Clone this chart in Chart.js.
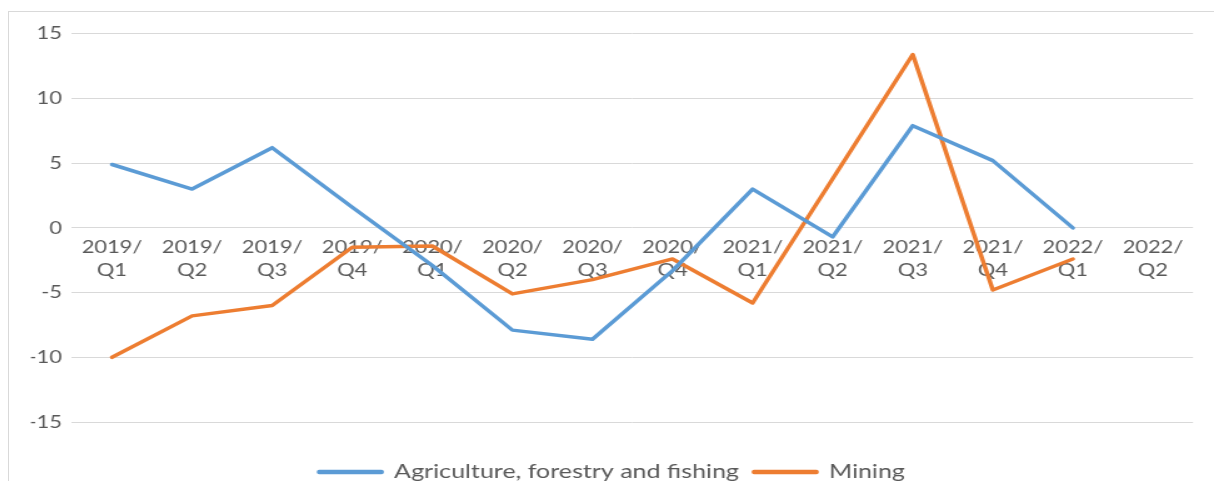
<!DOCTYPE html>
<html>
<head>
<meta charset="utf-8">
<script src="https://cdn.jsdelivr.net/npm/chart.js@4.4.1/dist/chart.umd.min.js"></script>
<style>
  html, body { margin: 0; padding: 0; background: #ffffff; overflow: hidden; width: 1214px; height: 481px; }
  #frame {
    position: absolute; left: 8px; top: 11px;
    width: 1240px; height: 520px;
    border: 1px solid #d9d9d9; background: #ffffff; overflow: hidden;
  }
  /* the chart is drawn on a narrower canvas and widened, giving the broad lettering */
  #stretch { position: absolute; left: 0; top: 0; transform: scaleX(1.25); transform-origin: 0 0; }
</style>
</head>
<body>
<div id="frame"><div id="stretch"><canvas id="chart" width="980" height="488"></canvas></div></div>
<script>
// Quarterly growth, %
const periods = ['2019/Q1', '2019/Q2', '2019/Q3', '2019/Q4',
                 '2020/Q1', '2020/Q2', '2020/Q3', '2020/Q4',
                 '2021/Q1', '2021/Q2', '2021/Q3', '2021/Q4',
                 '2022/Q1', '2022/Q2'];
const agriculture = [4.9, 3.0, 6.2, 1.6, -2.9, -7.9, -8.6, -3.3, 3.0, -0.7, 7.9, 5.2, 0.0, null];
const mining = [-10.0, -6.8, -6.0, -1.5, -1.4, -5.1, -4.0, -2.4, -5.8, 3.8, 13.4, -4.8, -2.4, null];
const yTicks = [-15, -10, -5, 0, 5, 10, 15];

const seriesNames = ['Agriculture, forestry and fishing', 'Mining'];
const seriesColors = ['#5b9bd5', '#ed7d31'];

// two-line category labels: "2019/" over "Q1"
const categoryLabels = periods.map(p => {
  const [year, q] = p.split('/');
  return [year + '/', q];
});

const textColor = '#595959';
const gridColor = '#d9d9d9';
const family = 'Lato, "Open Sans", sans-serif';

function lineSeries(name, values, color) {
  return {
    label: name,
    data: values,
    borderColor: color,
    backgroundColor: color,
    borderWidth: 3.5,
    pointRadius: 0,
    pointHoverRadius: 0,
    tension: 0,
    borderJoinStyle: 'round',
    borderCapStyle: 'round',
    fill: false
  };
}

new Chart(document.getElementById('chart'), {
  type: 'line',
  data: {
    labels: categoryLabels,
    datasets: [
      lineSeries(seriesNames[0], agriculture, seriesColors[0]),
      lineSeries(seriesNames[1], mining, seriesColors[1])
    ]
  },
  options: {
    responsive: false,
    animation: false,
    devicePixelRatio: 1,
    layout: { padding: { left: 17.6, right: 32.8, top: 21.8, bottom: 8 } },
    plugins: {
      tooltip: { enabled: false },
      legend: {
        position: 'bottom',
        // an empty legend title keeps the key clear of the category labels
        title: { display: true, text: '', font: { size: 10, lineHeight: 1 }, padding: { top: 18, bottom: 0 } },
        labels: {
          color: textColor,
          font: { family: family, size: 20 },
          boxWidth: 50,
          boxHeight: 1,
          padding: 12
        }
      }
    },
    scales: {
      x: {
        type: 'category',
        position: { y: 0 },
        offset: true,
        grid: { display: false, drawTicks: false },
        border: { display: false },
        ticks: {
          color: textColor,
          font: { family: family, size: 17.5, lineHeight: 1.29 },
          padding: 8.5,
          maxRotation: 0,
          minRotation: 0,
          autoSkip: false
        }
      },
      y: {
        min: yTicks[0],
        max: yTicks[yTicks.length - 1],
        afterBuildTicks: scale => { scale.ticks = yTicks.map(v => ({ value: v })); },
        afterFit: scale => { scale.width = 32.8; },
        grid: { color: gridColor, lineWidth: 1, drawTicks: false },
        border: { display: false },
        ticks: {
          color: textColor,
          font: { family: family, size: 17.5 },
          padding: 8
        }
      }
    }
  }
});
</script>
</body>
</html>
